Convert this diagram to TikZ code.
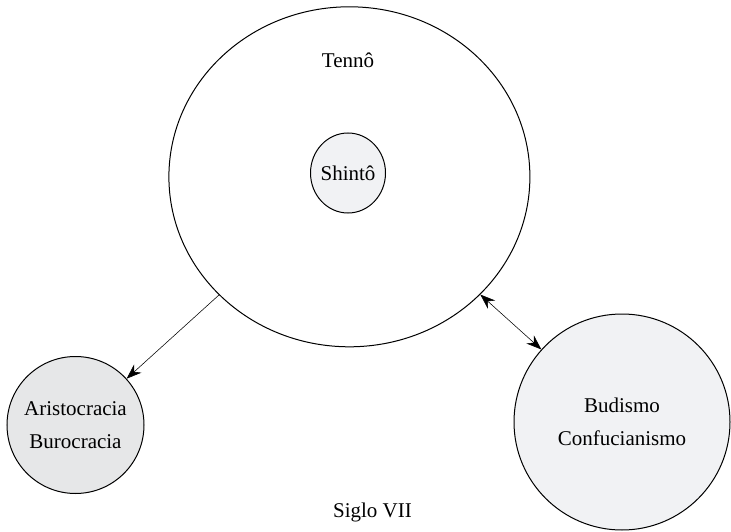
\documentclass[tikz,border=0pt]{standalone}
\usepackage{fontspec}
\setmainfont{Liberation Serif}
\usetikzlibrary{positioning,shapes.geometric,arrows.meta}
\definecolor{grisClaro}{RGB}{241,242,244}
\definecolor{grisMedio}{RGB}{230,231,232}

\begin{document}
\begin{tikzpicture}[
        x=1pt, y=-1pt,
        % Estilo de los círculos: borde negro, tamaño fijo
        esfera/.style={
            ellipse,
            draw=black,
            line width=1pt,
            inner sep=0pt
        },
        % Estilo del texto (suelto o dentro de un círculo)
        rotulo/.style={
            inner sep=0pt,
            align=center,
            font=\fontsize{21}{33}\selectfont
        },
        % Estilo de las flechas: finas, punta negra
        flecha/.style={
            draw,
            line width=0.55pt,
            -{Stealth[length=15pt, width=11pt]}
        },
        flechadoble/.style={
            draw,
            line width=0.55pt,
            {Stealth[length=15pt, width=11pt]}-{Stealth[length=15pt, width=11pt]}
        }
    ]
        \useasboundingbox (0,0) rectangle (731,532);

        % --- CÍRCULO GRANDE ---
        \node[esfera, minimum width=361pt, minimum height=340pt] (tenno) at (349.4,176.8) {};
        \node[rotulo] (tennoTxt) at (348,60) {Tennô};
        \node[esfera, fill=grisClaro, minimum width=75pt, minimum height=80pt,
              label={[rotulo]center:Shintô}] (shinto) at (348,173) {};

        % --- Círculo izquierdo ---
        \node[esfera, fill=grisMedio, minimum width=137pt, minimum height=137pt,
              label={[rotulo]center:Aristocracia\\Burocracia}] (aristo) at (75.5,425) {};

        % --- Círculo derecho ---
        \node[esfera, fill=grisClaro, minimum width=216pt, minimum height=216pt,
              label={[rotulo]center:Budismo\\Confucianismo}] (budismo) at (622,422) {};

        % Pie
        \node[rotulo] (siglo) at (372.5,512) {Siglo VII};

        % --- FLECHAS ---
        \draw[flecha] (tenno) -- (aristo);
        \draw[flechadoble] (tenno) -- (budismo);

    \end{tikzpicture}
\end{document}
